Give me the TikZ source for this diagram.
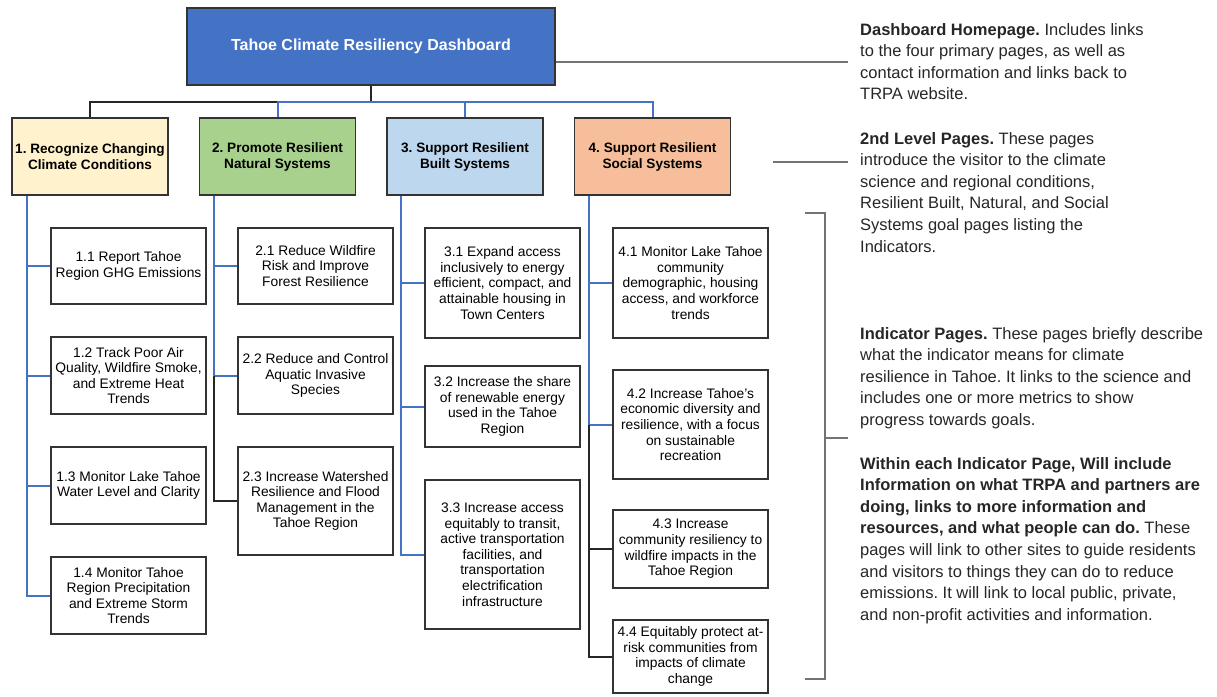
\documentclass[tikz,border=0pt]{standalone}
\usepackage{fontspec}
\usetikzlibrary{calc}
\setmainfont{Liberation Sans}
\frenchspacing
\definecolor{topblue}{HTML}{4472C4}
\definecolor{lnblue}{HTML}{4472C4}
\definecolor{fyel}{HTML}{FFF2CC}
\definecolor{fgrn}{HTML}{A9D18E}
\definecolor{fblu}{HTML}{BDD7EE}
\definecolor{forg}{HTML}{F6BE9A}
\definecolor{edge}{HTML}{333333}
\begin{document}
\begin{tikzpicture}[x=1pt,y=-1pt,
  topbox/.style={draw=edge,line width=1.8pt,fill=topblue,minimum width=368pt,minimum height=77pt,inner sep=2pt,text=white,font=\fontsize{16}{19}\selectfont\bfseries},
  goalbox/.style={draw=edge,line width=1.8pt,minimum width=156pt,minimum height=77pt,inner sep=1pt,align=center,font=\fontsize{13.6}{16}\selectfont\bfseries},
  indbox/.style={draw=edge,line width=1.8pt,fill=white,minimum width=155pt,inner sep=1pt,align=center,font=\fontsize{13.8}{15.6}\selectfont},
  bline/.style={draw=lnblue,line width=2pt},
  kline/.style={draw=black!85,line width=2pt},
  gline/.style={draw=black!55,line width=1.2pt},
  note/.style={anchor=north west,inner sep=0pt,align=left,font=\fontsize{16.5}{21.6}\selectfont,text=black!85}
]
\useasboundingbox (0,0) rectangle (1217,696);

% top
\node[topbox] (top) at (371,46.5) {Tahoe Climate Resiliency Dashboard};

% level 2
\node[goalbox,fill=fyel] (l1) at (90,156.5) {1. Recognize Changing\\Climate Conditions};
\node[goalbox,fill=fgrn] (l2) at (277.5,156.5) {2. Promote Resilient\\Natural Systems};
\node[goalbox,fill=fblu] (l3) at (465,156.5) {3. Support Resilient\\Built Systems};
\node[goalbox,fill=forg] (l4) at (652.5,156.5) {4. Support Resilient\\Social Systems};

% level 3 column 1
\node[indbox,minimum height=76pt] (b11) at (128.5,266) {1.1 Report Tahoe\\Region GHG Emissions};
\node[indbox,minimum height=77pt] (b12) at (128.5,375.5) {1.2 Track Poor Air\\Quality, Wildfire Smoke,\\and Extreme Heat\\Trends};
\node[indbox,minimum height=77pt] (b13) at (128.5,485.5) {1.3 Monitor Lake Tahoe\\Water Level and Clarity};
\node[indbox,minimum height=77pt] (b14) at (128.5,595.5) {1.4 Monitor Tahoe\\Region Precipitation\\and Extreme Storm\\Trends};

% column 2
\node[indbox,minimum height=76pt] (b21) at (315.5,266) {2.1 Reduce Wildfire\\Risk and Improve\\Forest Resilience};
\node[indbox,minimum height=77pt] (b22) at (315.5,375.5) {2.2 Reduce and Control\\Aquatic Invasive\\Species};
\node[indbox,minimum height=108pt] (b23) at (315.5,501) {2.3 Increase Watershed\\Resilience and Flood\\Management in the\\Tahoe Region};

% column 3
\node[indbox,minimum height=110pt] (b31) at (502.5,283) {3.1 Expand access\\inclusively to energy\\efficient, compact, and\\attainable housing in\\Town Centers};
\node[indbox,minimum height=81pt] (b32) at (502.5,406.5) {3.2 Increase the share\\of renewable energy\\used in the Tahoe\\Region};
\node[indbox,minimum height=149pt] (b33) at (502.5,554.5) {3.3 Increase access\\equitably to transit,\\active transportation\\facilities, and\\transportation\\electrification\\infrastructure};

% column 4
\node[indbox,minimum height=110pt] (b41) at (690.5,283) {4.1 Monitor Lake Tahoe\\community\\demographic, housing\\access, and workforce\\trends};
\node[indbox,minimum height=109pt] (b42) at (690.5,424.5) {4.2 Increase Tahoe's\\economic diversity and\\resilience, with a focus\\on sustainable\\recreation};
\node[indbox,minimum height=78pt] (b43) at (690.5,549) {4.3 Increase\\community resiliency to\\wildfire impacts in the\\Tahoe Region};
\node[indbox,minimum height=73pt] (b44) at (690.5,656.5) {4.4 Equitably protect at-\\risk communities from\\impacts of climate\\change};

% top connectors
\coordinate (hub) at ($(top.south)+(0,16)$);
\draw[kline] (top.south) -- (hub) -| (l1.north);
\draw[bline] (hub) -| (l2.north);
\draw[bline] (hub) -| (l3.north);
\draw[bline] (hub) -| (l4.north);

% column spines
\coordinate (s1) at ([xshift=16pt]l1.south west);
\coordinate (s2) at ([xshift=15pt]l2.south west);
\coordinate (s3) at ([xshift=15pt]l3.south west);
\coordinate (s4) at ([xshift=15pt]l4.south west);
\draw[bline] (s1) |- (b11.west);
\draw[bline] (s1) |- (b12.west);
\draw[bline] (s1) |- (b13.west);
\draw[bline] (s1) |- (b14.west);
\draw[bline] (s2) |- (b21.west);
\draw[bline] (s2) |- (b22.west);
\draw[kline] (s2 |- b22.west) |- (b23.west);
\draw[bline] (s3) |- (b31.west);
\draw[bline] (s3) |- (b32.west);
\draw[bline] (s3) |- (b33.west);
\draw[bline] (s4) |- (b41.west);
\draw[bline] (s4) |- (b42.west);
\draw[kline] (s4 |- b42.west) |- (b43.west);
\draw[kline] (s4 |- b42.west) |- (b44.west);

% annotation leaders
\coordinate (a1) at (848,62);
\draw[gline] (top.east |- a1) -- (a1);
\coordinate (a2s) at (773,162);
\coordinate (a2) at (848,162);
\draw[gline] (a2s) -- (a2);
\coordinate (br1) at (805,213);
\coordinate (br2) at (825,213);
\coordinate (br3) at (825,679);
\coordinate (br4) at (805,679);
\coordinate (brm) at (848,438);
\draw[gline] (br1) -- (br2) -- (br3) -- (br4);
\draw[gline] (br2 |- brm) -- (brm);

% notes
\node[note] (n1) at (860,23) {\textbf{Dashboard Homepage.} Includes links\\to the four primary pages, as well as\\contact information and links back to\\TRPA website.};
\node[note] (n2) at (860,132) {\textbf{2nd Level Pages.} These pages\\introduce the visitor to the climate\\science and regional conditions,\\Resilient Built, Natural, and Social\\Systems goal pages listing the\\Indicators.};
\node[note] (n3) at (860,327) {\textbf{Indicator Pages.} These pages briefly describe\\what the indicator means for climate\\resilience in Tahoe. It links to the science and\\includes one or more metrics to show\\progress towards goals.};
\node[note] (n4) at (860,457) {\textbf{Within each Indicator Page, Will include}\\\textbf{Information on what TRPA and partners are}\\\textbf{doing, links to more information and}\\\textbf{resources, and what people can do.} These\\pages will link to other sites to guide residents\\and visitors to things they can do to reduce\\emissions. It will link to local public, private,\\and non-profit activities and information.};
\end{tikzpicture}
\end{document}
